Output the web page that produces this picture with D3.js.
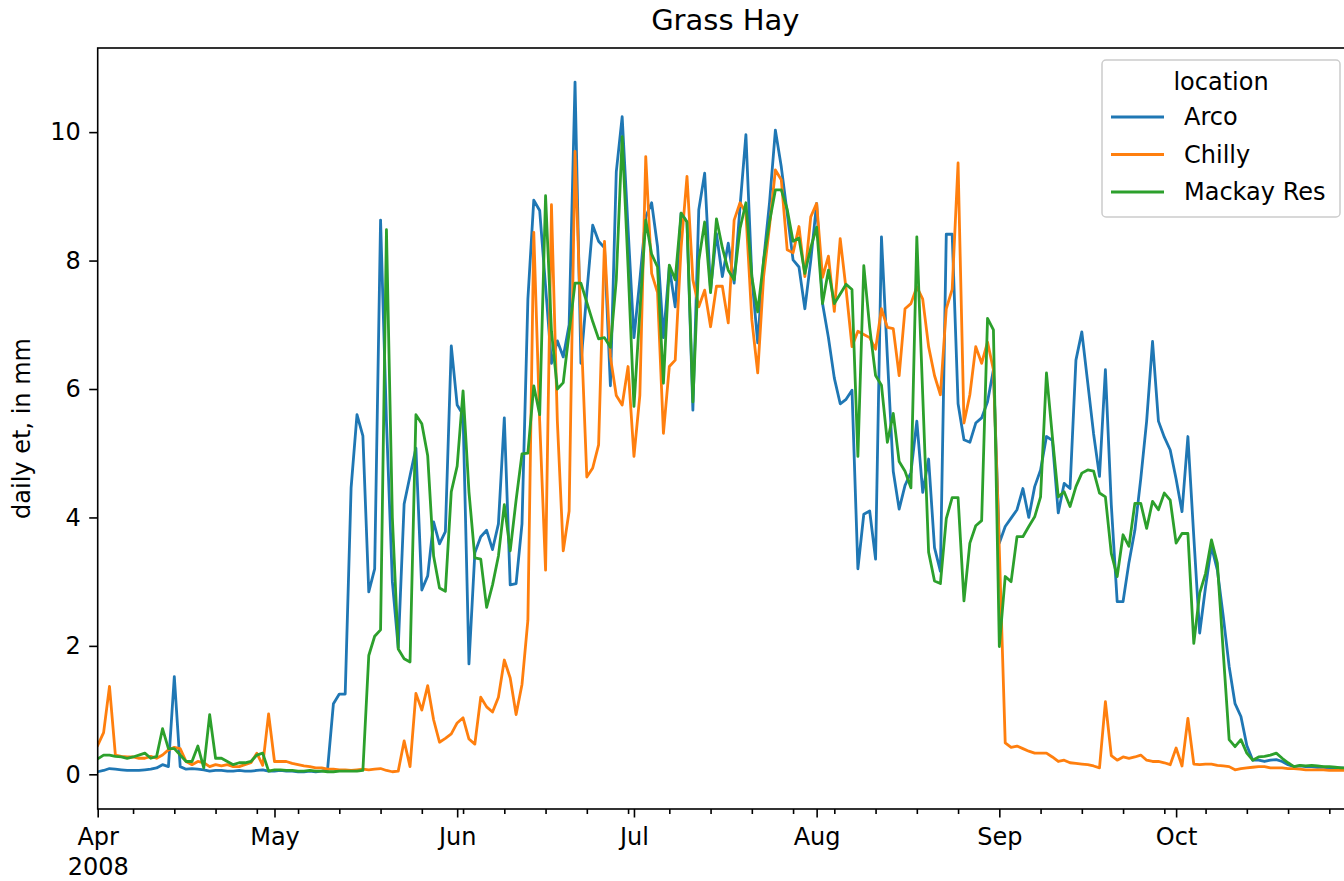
<!DOCTYPE html>
<html>
<head>
<meta charset="utf-8">
<script src="https://cdn.jsdelivr.net/npm/d3@7"></script>
<style>
  html, body { margin: 0; padding: 0; background: #fff; overflow: hidden; }
  svg { display: block; font-family: "DejaVu Sans", sans-serif; }
</style>
</head>
<body>
<svg id="chart" width="1344" height="881"></svg>
<script>
// Daily grass-hay evapotranspiration (mm), 1 Apr 2008 .. 31 Oct 2008
const startDate = "2008-04-01";
const locations = ["Arco", "Chilly", "Mackay Res"];

const arco = [
  // Apr
  0.04,0.06,0.09,0.08,0.07,0.06,0.06,0.06,0.07,0.08,0.10,0.15,0.12,1.52,0.12,0.08,0.09,0.08,0.07,0.05,0.06,0.06,0.05,0.05,0.06,0.05,0.05,0.06,0.07,0.05,
  // May
  0.05,0.06,0.05,0.05,0.04,0.04,0.05,0.04,0.05,0.07,1.10,1.25,1.25,4.46,5.60,5.27,2.84,3.20,8.63,5.50,3.00,1.97,4.21,4.65,5.08,2.87,3.09,3.93,3.59,3.78,6.67,
  // Jun
  5.75,5.60,1.72,3.45,3.70,3.80,3.50,3.90,5.55,2.95,2.97,3.90,7.40,8.94,8.78,7.60,6.40,6.75,6.50,7.00,10.78,6.40,7.50,8.55,8.30,8.20,6.05,9.38,10.24,8.50,
  // Jul
  6.80,7.70,8.68,8.90,8.22,6.80,7.90,7.28,8.74,8.60,5.67,8.79,9.36,7.54,8.42,7.75,8.27,7.65,8.84,9.96,7.75,6.72,8.00,8.90,10.03,9.46,8.74,8.01,7.90,7.25,8.00,
  // Aug
  8.89,7.33,6.80,6.17,5.77,5.84,5.98,3.20,4.05,4.10,3.35,8.37,6.50,4.72,4.13,4.50,4.70,5.50,4.39,4.91,3.53,3.16,8.41,8.41,5.77,5.21,5.17,5.47,5.55,5.80,6.30,
  // Sep
  3.60,3.86,3.99,4.12,4.45,4.00,4.48,4.74,5.26,5.20,4.07,4.53,4.45,6.45,6.89,6.10,5.30,4.64,6.30,4.20,2.69,2.69,3.30,3.80,4.60,5.50,6.74,5.50,5.25,5.05,
  // Oct
  4.60,4.09,5.26,3.70,2.20,2.92,3.55,3.18,2.46,1.68,1.10,0.90,0.45,0.22,0.22,0.20,0.22,0.23,0.20,0.15,0.12,0.13,0.12,0.12,0.11,0.11,0.10,0.10,0.10,0.09,0.09
];

const chilly = [
  // Apr
  0.45,0.65,1.37,0.30,0.28,0.27,0.27,0.25,0.25,0.28,0.25,0.30,0.38,0.42,0.40,0.20,0.15,0.20,0.18,0.12,0.15,0.13,0.15,0.12,0.12,0.15,0.18,0.33,0.14,0.94,
  // May
  0.20,0.20,0.20,0.17,0.15,0.13,0.12,0.10,0.10,0.08,0.08,0.07,0.07,0.06,0.07,0.08,0.07,0.08,0.09,0.06,0.04,0.05,0.52,0.12,1.26,1.00,1.38,0.85,0.50,0.56,0.63,
  // Jun
  0.80,0.88,0.55,0.47,1.20,1.05,0.97,1.20,1.78,1.50,0.93,1.40,2.40,8.44,5.50,3.18,8.87,5.50,3.48,4.10,9.70,7.00,4.63,4.77,5.13,8.30,6.50,5.90,5.75,6.35,
  // Jul
  4.95,5.90,9.62,7.80,7.50,5.31,6.35,6.45,8.20,9.31,7.70,7.28,7.54,6.97,7.60,7.60,7.03,8.63,8.90,8.74,7.08,6.25,7.75,8.53,9.41,9.26,8.17,8.12,8.53,7.75,8.68,
  // Aug
  8.89,7.74,8.07,7.21,8.34,7.55,6.66,6.90,6.85,6.80,6.62,7.25,6.96,6.94,6.21,7.25,7.33,7.59,7.40,6.66,6.21,5.91,7.25,7.55,9.52,5.47,5.91,6.66,6.40,6.73,6.30,
  // Sep
  3.50,0.49,0.42,0.44,0.40,0.36,0.33,0.33,0.33,0.27,0.20,0.22,0.18,0.17,0.16,0.15,0.13,0.10,1.13,0.29,0.22,0.27,0.25,0.27,0.30,0.22,0.20,0.20,0.18,0.15,
  // Oct
  0.41,0.13,0.87,0.16,0.15,0.16,0.16,0.14,0.13,0.12,0.07,0.09,0.10,0.11,0.12,0.12,0.10,0.10,0.10,0.09,0.09,0.08,0.07,0.07,0.07,0.07,0.06,0.06,0.06,0.06,0.05
];

const mackay = [
  // Apr
  0.24,0.30,0.30,0.28,0.27,0.25,0.27,0.30,0.33,0.25,0.28,0.71,0.40,0.40,0.30,0.20,0.20,0.44,0.10,0.93,0.25,0.25,0.20,0.15,0.18,0.18,0.20,0.30,0.33,0.05,
  // May
  0.07,0.07,0.06,0.06,0.05,0.05,0.06,0.05,0.05,0.04,0.04,0.05,0.05,0.05,0.05,0.06,1.85,2.15,2.25,8.48,4.00,1.95,1.80,1.75,5.60,5.46,4.96,3.40,2.90,2.85,4.40,
  // Jun
  4.80,5.97,4.40,3.37,3.35,2.60,2.95,3.40,4.20,3.48,4.27,4.99,5.00,6.05,5.60,9.01,6.90,6.00,6.10,6.88,7.65,7.65,7.35,7.05,6.78,6.80,6.65,7.70,9.93,7.90,
  // Jul
  5.73,7.20,8.63,8.10,7.90,6.09,7.93,7.70,8.74,8.60,5.80,8.00,8.60,7.50,8.65,8.20,7.85,7.70,8.50,8.90,7.75,7.20,8.00,8.60,9.10,9.10,8.80,8.30,8.35,7.80,8.20,
  // Aug
  8.52,7.33,7.85,7.33,7.48,7.63,7.55,4.95,7.92,6.96,6.21,6.06,5.17,5.62,4.87,4.72,4.46,8.37,5.91,3.46,3.01,2.97,3.98,4.31,4.31,2.70,3.60,3.87,3.95,7.10,6.92,
  // Sep
  1.99,3.08,3.00,3.70,3.70,3.86,4.01,4.32,6.25,5.26,4.32,4.40,4.17,4.48,4.69,4.74,4.72,4.38,4.32,3.44,3.08,3.73,3.55,4.22,4.22,3.83,4.25,4.12,4.38,4.27,
  // Oct
  3.60,3.75,3.75,2.04,2.82,3.13,3.65,3.29,1.90,0.54,0.43,0.54,0.33,0.22,0.27,0.28,0.30,0.33,0.25,0.18,0.12,0.14,0.13,0.14,0.13,0.12,0.12,0.11,0.10,0.10,0.10
];

const yTicks = [0, 2, 4, 6, 8, 10];
const monthLabels = ["Apr", "May", "Jun", "Jul", "Aug", "Sep", "Oct"];
const yearLabel = "2008";
const chartTitle = "Grass Hay";
const yAxisLabel = "daily et, in mm";
const legendTitle = "location";

// ---- layout / style ----
const colors = ["#1f77b4", "#ff7f0e", "#2ca02c"];
const plot = { left: 97.7, right: 1352.9, top: 48, bottom: 809 };
const fontSize = 24;
const lineWidth = 2.8;

const svg = d3.select("#chart");

const start = d3.timeParse("%Y-%m-%d")(startDate);
const dates = arco.map((_, i) => d3.timeDay.offset(start, i));
const seriesValues = [arco, chilly, mackay];

const x = d3.scaleTime()
  .domain([dates[0], dates[dates.length - 1]])
  .range([plot.left, plot.right]);

const y = d3.scaleLinear()
  .domain([-0.54, 11.31])
  .range([plot.bottom, plot.top]);

// clip lines to the axes box
svg.append("defs").append("clipPath").attr("id", "plot-clip")
  .append("rect")
  .attr("x", plot.left).attr("y", plot.top)
  .attr("width", plot.right - plot.left).attr("height", plot.bottom - plot.top);

const line = d3.line()
  .x((d, i) => x(dates[i]))
  .y(d => y(d));

svg.append("g").attr("clip-path", "url(#plot-clip)")
  .selectAll("path")
  .data(seriesValues)
  .join("path")
  .attr("d", d => line(d))
  .attr("fill", "none")
  .attr("stroke", (d, i) => colors[i])
  .attr("stroke-width", lineWidth)
  .attr("stroke-linejoin", "round")
  .attr("stroke-linecap", "square");

// ---- x axis: monthly major ticks, weekly (Monday) minor ticks ----
const monthStarts = d3.timeMonth.range(dates[0], d3.timeDay.offset(dates[dates.length - 1], 1));
const mondays = d3.timeMonday.range(dates[0], dates[dates.length - 1])
  .filter(d => d.getDate() !== 1);

const minorAxis = d3.axisBottom(x).tickValues(mondays).tickSize(5).tickFormat("");
svg.append("g")
  .attr("transform", `translate(0,${plot.bottom})`)
  .call(minorAxis)
  .call(g => g.select(".domain").remove())
  .call(g => g.selectAll("line").attr("stroke", "#000").attr("stroke-width", 1.6));

const majorAxis = d3.axisBottom(x)
  .tickValues(monthStarts)
  .tickSize(8.5)
  .tickPadding(10)
  .tickFormat((d, i) => monthLabels[i]);

const xg = svg.append("g")
  .attr("transform", `translate(0,${plot.bottom})`)
  .call(majorAxis);
xg.select(".domain").remove();
xg.selectAll("line").attr("stroke", "#000").attr("stroke-width", 1.6);
xg.selectAll("text")
  .attr("font-size", fontSize)
  .attr("font-family", "DejaVu Sans, sans-serif")
  .attr("fill", "#000");
xg.selectAll(".tick").filter((d, i) => i === 0).select("text")
  .append("tspan").attr("x", 0).attr("dy", "1.28em").text(yearLabel);

// ---- y axis ----
const yg = svg.append("g")
  .attr("transform", `translate(${plot.left},0)`)
  .call(d3.axisLeft(y).tickValues(yTicks).tickSize(8.5).tickPadding(8.5).tickFormat(d3.format("d")));
yg.select(".domain").remove();
yg.selectAll("line").attr("stroke", "#000").attr("stroke-width", 1.6);
yg.selectAll("text")
  .attr("font-size", fontSize)
  .attr("font-family", "DejaVu Sans, sans-serif")
  .attr("fill", "#000");

// ---- spines ----
svg.append("rect")
  .attr("x", plot.left).attr("y", plot.top)
  .attr("width", plot.right - plot.left).attr("height", plot.bottom - plot.top)
  .attr("fill", "none").attr("stroke", "#000").attr("stroke-width", 1.6);

// ---- title and axis label ----
svg.append("text")
  .attr("x", (plot.left + plot.right) / 2).attr("y", 30)
  .attr("text-anchor", "middle")
  .attr("font-size", 29)
  .attr("fill", "#000")
  .text(chartTitle);

svg.append("text")
  .attr("transform", `translate(30,${(plot.top + plot.bottom) / 2}) rotate(-90)`)
  .attr("text-anchor", "middle")
  .attr("font-size", fontSize)
  .attr("fill", "#000")
  .text(yAxisLabel);

// ---- legend ----
const lg = svg.append("g").attr("transform", "translate(1102,60)");
lg.append("rect")
  .attr("width", 238).attr("height", 157)
  .attr("rx", 4).attr("ry", 4)
  .attr("fill", "#fff").attr("fill-opacity", 0.8)
  .attr("stroke", "#cccccc").attr("stroke-width", 1.5);
lg.append("text")
  .attr("x", 119).attr("y", 30)
  .attr("text-anchor", "middle")
  .attr("font-size", fontSize)
  .attr("fill", "#000")
  .text(legendTitle);
const items = lg.selectAll("g.item")
  .data(locations)
  .join("g")
  .attr("class", "item")
  .attr("transform", (d, i) => `translate(0,${57 + i * 37.5})`);
items.append("line")
  .attr("x1", 9).attr("x2", 62)
  .attr("stroke", (d, i) => colors[i])
  .attr("stroke-width", lineWidth);
items.append("text")
  .attr("x", 82).attr("dy", "0.35em")
  .attr("font-size", fontSize)
  .attr("fill", "#000")
  .text(d => d);
</script>
</body>
</html>
